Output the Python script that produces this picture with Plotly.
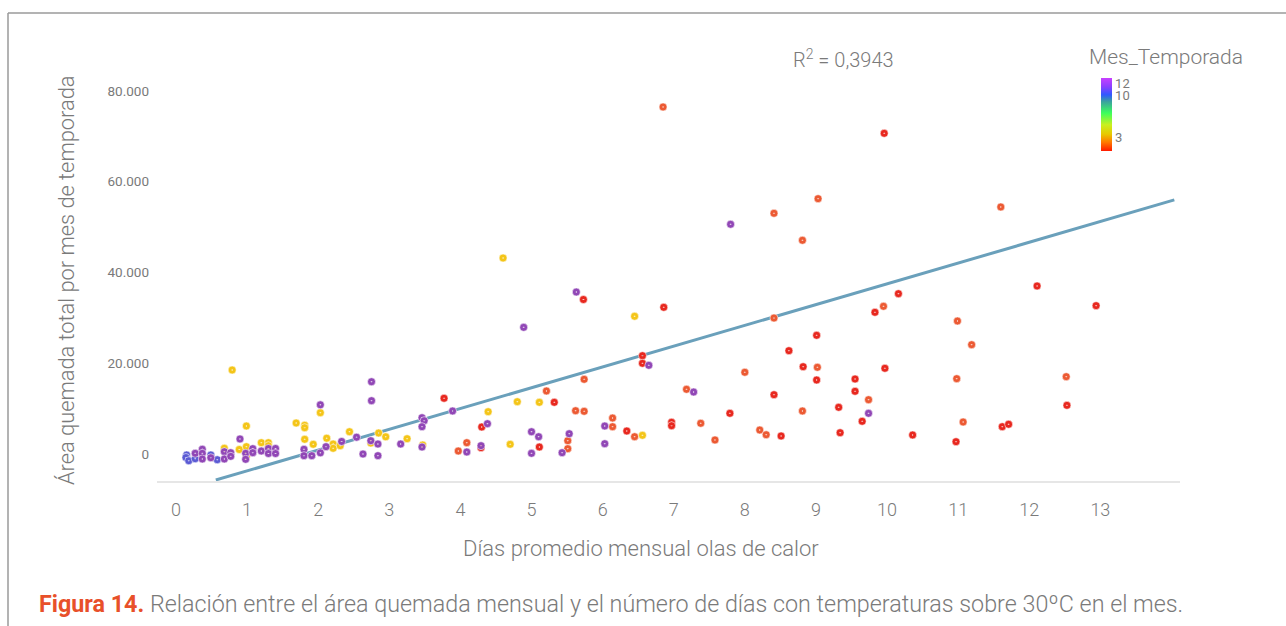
import plotly.graph_objects as go

# ---- Data ----
# Mes_Temporada groups: 1 (red), 2 (orange-red), 3 (yellow), 11 (blue), 12 (purple)
dias_m11 = [0.15, 0.14, 0.18, 0.27, 0.49, 0.58]
area_m11 = [-220, -770, -1480, -1040, -220, -1260]

dias_m12 = [0.27, 0.37, 0.37, 0.37, 0.49, 0.68, 0.68, 0.77, 0.77, 0.90, 0.98, 0.98,
            1.08, 1.08, 1.20, 1.30, 1.30, 1.40, 1.40, 1.80, 1.80, 1.91, 2.03, 2.03,
            2.11, 2.33, 2.54, 2.63, 2.75, 2.75, 2.74, 2.84, 2.84, 3.16, 3.46, 3.49,
            3.46, 3.46, 3.89, 4.38, 4.29, 4.09, 4.89, 5.00, 5.10, 5.00, 5.53, 5.43,
            6.03, 6.03, 6.65, 7.28, 7.80, 9.74, 5.63]
area_m12 = [150, 1040, 150, -1100, -820, 510, -1100, 290, -510, 3310, 150, -1170,
            1170, 290, 660, 1210, 110, 1210, 110, 1040, -370, -370, 10840, 260,
            1610, 2760, 3700, 0, 15930, 11750, 2930, 2200, -370, 2200, 8000, 7340,
            6020, 1540, 9480, 6680, 1830, 440, 27920, 4910, 3810, 150, 4470, 290,
            6170, 2270, 19550, 13660, 50630, 8970, 35700]

dias_m3 = [0.79, 0.68, 0.89, 0.99, 0.99, 0.99, 1.20, 1.30, 1.30, 1.69, 1.81, 1.81,
           1.81, 1.93, 2.03, 2.12, 2.21, 2.21, 2.31, 2.44, 2.74, 2.85, 2.95, 3.25,
           3.47, 4.39, 4.70, 4.80, 5.11, 4.60, 6.45, 6.56]
area_m3 = [18510, 1260, 990, 6170, 1610, -440, 2490, 2490, 1830, 6830, 6330, 5800,
           3240, 2140, 9100, 3480, 2200, 1260, 1830, 4910, 2420, 4630, 3790, 3370,
           1980, 9320, 2140, 11530, 11390, 43200, 30350, 4120]

dias_m1 = [3.77, 4.30, 4.29, 5.11, 5.32, 5.73, 6.56, 6.56, 6.86, 6.34, 6.97, 6.97,
           7.79, 8.41, 8.51, 8.62, 9.01, 8.82, 9.01, 9.32, 9.34, 9.55, 9.55, 9.65,
           9.83, 9.97, 10.16, 9.96, 10.36, 10.97, 11.62, 11.71, 12.94, 12.11, 12.53]
area_m1 = [12280, 5950, 1390, 1540, 11390, 34050, 21670, 19990, 32330, 5070, 6990, 6240,
           8970, 13070, 3970, 22770, 26160, 19240, 16310, 10290, 4690, 16530, 13820, 7210,
           31230, 18890, 35330, 70680, 4190, 2710, 6020, 6550, 32690, 37030, 10730]

dias_m2 = [3.97, 4.09, 5.21, 5.62, 5.74, 5.74, 5.51, 5.51, 6.14, 6.14, 6.45, 7.18,
           7.38, 7.58, 8.00, 8.21, 8.30, 8.41, 8.41, 8.81, 8.81, 9.02, 9.03, 6.85,
           9.74, 9.95, 10.99, 11.19, 10.98, 11.07, 11.60, 12.52]
area_m2 = [660, 2490, 13890, 9540, 9410, 16460, 2930, 1170, 7930, 6020, 3810, 14260,
           6770, 3090, 18010, 5290, 4250, 29970, 53050, 47100, 9480, 19110, 56270, 76480,
           11970, 32550, 29310, 24090, 16600, 7050, 54440, 17040]

# Regression line end points
trend_x = [0.56, 14.04]
trend_y = [-5730, 56000]
r2_text = "R<sup>2</sup> = 0,3943"

x_ticks = list(range(0, 14))
y_ticks = [0, 20000, 40000, 60000, 80000]
y_tick_text = ["0", "20.000", "40.000", "60.000", "80.000"]
cbar_ticks = [3, 10, 12]

x_title = "Días promedio mensual olas de calor"
y_title = "Área quemada total por mes de temporada"
legend_title = "Mes_Temporada"
caption = ("<b><span style='color:#e8502a'>Figura 14.</span></b> Relación entre el área "
           "quemada mensual y el número de días con temperaturas sobre 30ºC en el mes.")

GRAY = "#7a7a7a"
FONT = "Roboto"

groups = [
    ("1", dias_m1, area_m1, "#e8281f"),
    ("2", dias_m2, area_m2, "#ec5a33"),
    ("3", dias_m3, area_m3, "#f4c518"),
    ("11", dias_m11, area_m11, "#5b5bd4"),
    ("12", dias_m12, area_m12, "#9147b6"),
]

fig = go.Figure()

fig.add_trace(go.Scatter(
    x=trend_x, y=trend_y, mode="lines",
    line=dict(color="#6aa0bb", width=3), showlegend=False, hoverinfo="skip"))

for name, xs, ys, col in groups:
    fig.add_trace(go.Scatter(
        x=xs, y=ys, mode="markers", name=name, showlegend=False,
        marker=dict(symbol="circle-dot", size=8, color=col,
                    line=dict(color="rgba(255,255,255,0.55)", width=1))))

# colour bar for Mes_Temporada
cscale = [
    [0.00, "#ff1a00"], [0.12, "#ff7a00"], [0.23, "#e8c800"], [0.36, "#c8f020"],
    [0.52, "#3cff5c"], [0.68, "#3aa0a0"], [0.77, "#3058ff"], [0.88, "#8a40ff"],
    [1.00, "#c840ff"]]
fig.add_trace(go.Scatter(
    x=[None], y=[None], mode="markers", showlegend=False, hoverinfo="skip",
    marker=dict(color=[1], cmin=0.67, cmax=12.83, colorscale=cscale, showscale=True,
                colorbar=dict(
                    x=(1101 - 157) / 1023, xanchor="left", xpad=0,
                    y=(481 - 78) / 411, yanchor="top", ypad=0,
                    lenmode="pixels", len=73, thickness=11, outlinewidth=0,
                    tickvals=cbar_ticks, ticks="", ticklabelposition="outside",
                    tickfont=dict(family=FONT, size=13, color=GRAY)))))

W, H = 1286, 626
L, R, T, B = 157, 106, 70, 145
pw, ph = W - L - R, H - T - B

def px(xp):
    return (xp - L) / pw

def py(yp):
    return (H - B - yp) / ph

fig.update_layout(
    width=W, height=H,
    margin=dict(l=L, r=R, t=T, b=B, autoexpand=False),
    paper_bgcolor="white", plot_bgcolor="white",
    font=dict(family=FONT, color=GRAY),
    xaxis=dict(range=[-0.267, 14.12], tickvals=x_ticks, showgrid=False, zeroline=False,
               showline=True, linecolor="#e6e6e6", linewidth=2, ticks="",
               ticklabelstandoff=11,
               tickfont=dict(family=FONT, size=18, color=GRAY, weight=300)),
    yaxis=dict(range=[-5950, 84630], tickvals=y_ticks, ticktext=y_tick_text,
               showgrid=False, zeroline=False, showline=False, ticks="",
               ticklabelstandoff=7,
               tickfont=dict(family=FONT, size=13.5, color=GRAY)),
    annotations=[
        dict(text=x_title, xref="paper", yref="paper", x=px(641), y=py(548),
             xanchor="center", yanchor="middle", showarrow=False,
             font=dict(family=FONT, size=22, color=GRAY, weight=300)),
        dict(text=y_title, xref="paper", yref="paper", x=px(66), y=py(281),
             xanchor="center", yanchor="middle", showarrow=False, textangle=-90,
             font=dict(family=FONT, size=21.8, color=GRAY, weight=300)),
        dict(text=r2_text, xref="paper", yref="paper", x=px(843), y=py(59),
             xanchor="center", yanchor="middle", showarrow=False,
             font=dict(family=FONT, size=20, color=GRAY, weight=300)),
        dict(text=legend_title, xref="paper", yref="paper", x=px(1166), y=py(57),
             xanchor="center", yanchor="middle", showarrow=False,
             font=dict(family=FONT, size=21, color=GRAY, weight=300)),
        dict(text=caption, xref="paper", yref="paper", x=px(37), y=py(604),
             xanchor="left", yanchor="middle", showarrow=False,
             font=dict(family=FONT, size=23.3, color=GRAY, weight=300)),
    ],
    shapes=[
        dict(type="line", xref="paper", yref="paper", x0=px(8), x1=px(1290),
             y0=py(13), y1=py(13), line=dict(color="#9a9a9a", width=1.5)),
        dict(type="line", xref="paper", yref="paper", x0=px(8), x1=px(8),
             y0=py(13), y1=py(630), line=dict(color="#9a9a9a", width=1.5)),
    ],
)

fig.write_html("out.html", config={"displayModeBar": False},
               post_script="document.body.style.margin='0';document.body.style.overflow='hidden';")
